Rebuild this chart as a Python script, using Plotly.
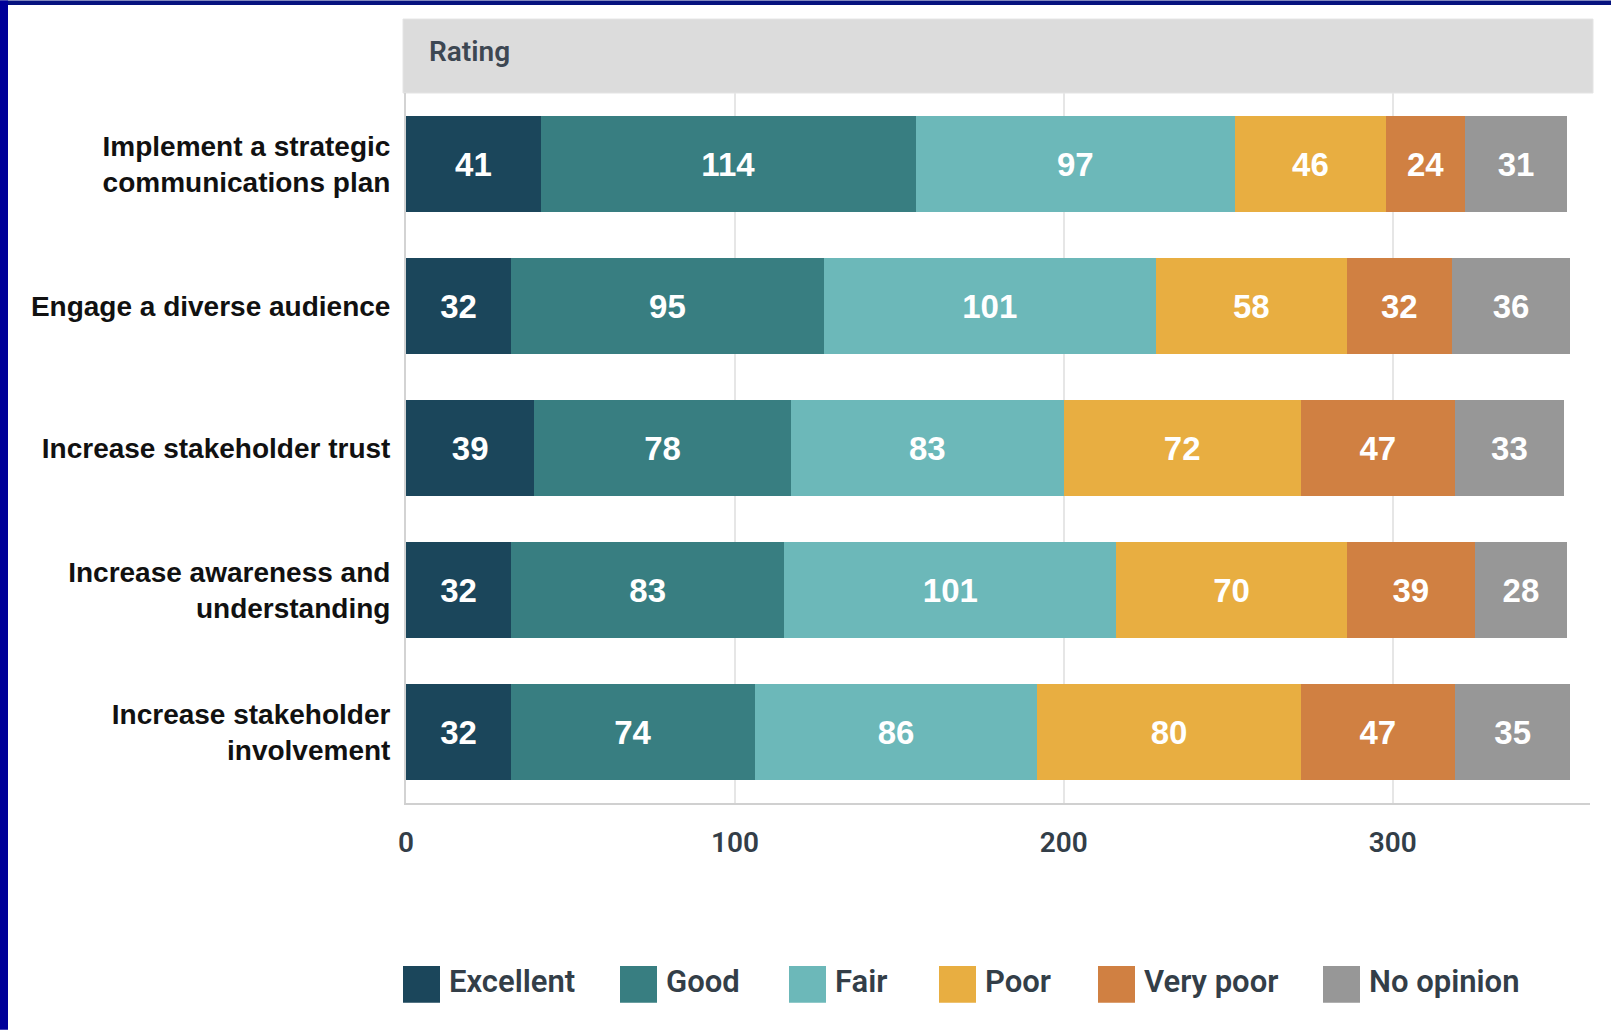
import plotly.graph_objects as go

# Survey goals (top to bottom) and rating counts per goal
goals = [
    "Implement a strategic<br>communications plan",
    "Engage a diverse audience",
    "Increase stakeholder trust",
    "Increase awareness and<br>understanding",
    "Increase stakeholder<br>involvement",
]
ratings = ["Excellent", "Good", "Fair", "Poor", "Very poor", "No opinion"]
excellent = [41, 32, 39, 32, 32]
good = [114, 95, 78, 83, 74]
fair = [97, 101, 83, 101, 86]
poor = [46, 58, 72, 70, 80]
very_poor = [24, 32, 47, 39, 47]
no_opinion = [31, 36, 33, 28, 35]
series = [excellent, good, fair, poor, very_poor, no_opinion]
colors = ["#1b465b", "#387e81", "#6cb8b9", "#e8ae41", "#d08042", "#979797"]
x_ticks = [0, 100, 200, 300]

W, H = 1611, 1030
PL, PR, PT, PB = 406, 1590, 92.5, 803  # plot area in pixels


def px(x):
    return (x - PL) / (PR - PL)


def py(y):
    return (PB - y) / (PB - PT)


fig = go.Figure()
for name, vals, col in zip(ratings, series, colors):
    fig.add_trace(go.Bar(
        y=goals, x=vals, name=name, orientation="h",
        marker=dict(color=col, line=dict(width=0)),
        text=[str(v) for v in vals], textposition="inside",
        insidetextanchor="middle", textangle=0,
        textfont=dict(family="Liberation Sans, Arial", size=33, color="white",
                      weight="bold"),
        showlegend=False, hoverinfo="x+y+name",
    ))

shapes = []
annotations = []

# header band with the "Rating" caption
shapes.append(dict(type="rect", xref="paper", yref="paper",
                   x0=px(403), x1=px(1593), y0=py(92.5), y1=py(18.5),
                   fillcolor="#dcdcdc", line=dict(color="#e4e4e4", width=1), layer="below"))
annotations.append(dict(text="Rating", xref="paper", yref="paper",
                        x=px(427), y=py(51), xanchor="left", yanchor="middle",
                        showarrow=False,
                        font=dict(family="Roboto", size=28, color="#3d4752", weight=600)))

# frame edges: top strip and left strip
shapes.append(dict(type="rect", xref="paper", yref="paper",
                   x0=px(0), x1=px(W), y0=py(4.5), y1=py(0),
                   fillcolor="#06137f", line=dict(width=0)))
shapes.append(dict(type="rect", xref="paper", yref="paper",
                   x0=px(0), x1=px(8), y0=py(H), y1=py(0),
                   fillcolor="#000099", line=dict(width=0)))

# legend: swatches and labels
legend_left = [403, 620, 789, 939, 1098, 1323]
for name, col, x0 in zip(ratings, colors, legend_left):
    shapes.append(dict(type="rect", xref="paper", yref="paper",
                       x0=px(x0), x1=px(x0 + 37), y0=py(1003), y1=py(966),
                       fillcolor=col, line=dict(width=0)))
    annotations.append(dict(text=name, xref="paper", yref="paper",
                            x=px(x0 + 44), y=py(982), xanchor="left", yanchor="middle",
                            showarrow=False,
                            font=dict(family="Roboto", size=31, color="#333e48", weight=600)))

fig.update_layout(
    width=W, height=H,
    margin=dict(l=PL, r=W - PR, t=PT, b=H - PB, pad=0),
    barmode="stack", bargap=0.32,
    paper_bgcolor="white", plot_bgcolor="white",
    showlegend=False,
    shapes=shapes, annotations=annotations,
    xaxis=dict(range=[0, 360], tickvals=x_ticks, ticktext=[str(t) for t in x_ticks],
               showgrid=True, gridcolor="#e6e6e6", gridwidth=1.5,
               zeroline=False, showline=True, linecolor="#d0d0d0", linewidth=2,
               ticks="", ticklabelstandoff=13,
               tickfont=dict(family="Roboto", size=28, color="#333e48", weight=600)),
    yaxis=dict(categoryorder="array", categoryarray=goals, autorange="reversed",
               showgrid=False, zeroline=False, showline=True,
               linecolor="#d3d3d3", linewidth=2, ticks="", ticklabelstandoff=8,
               tickfont=dict(family="Liberation Sans", size=28, color="#111111",
                             weight="bold")),
)

fig.write_html("out.html")
